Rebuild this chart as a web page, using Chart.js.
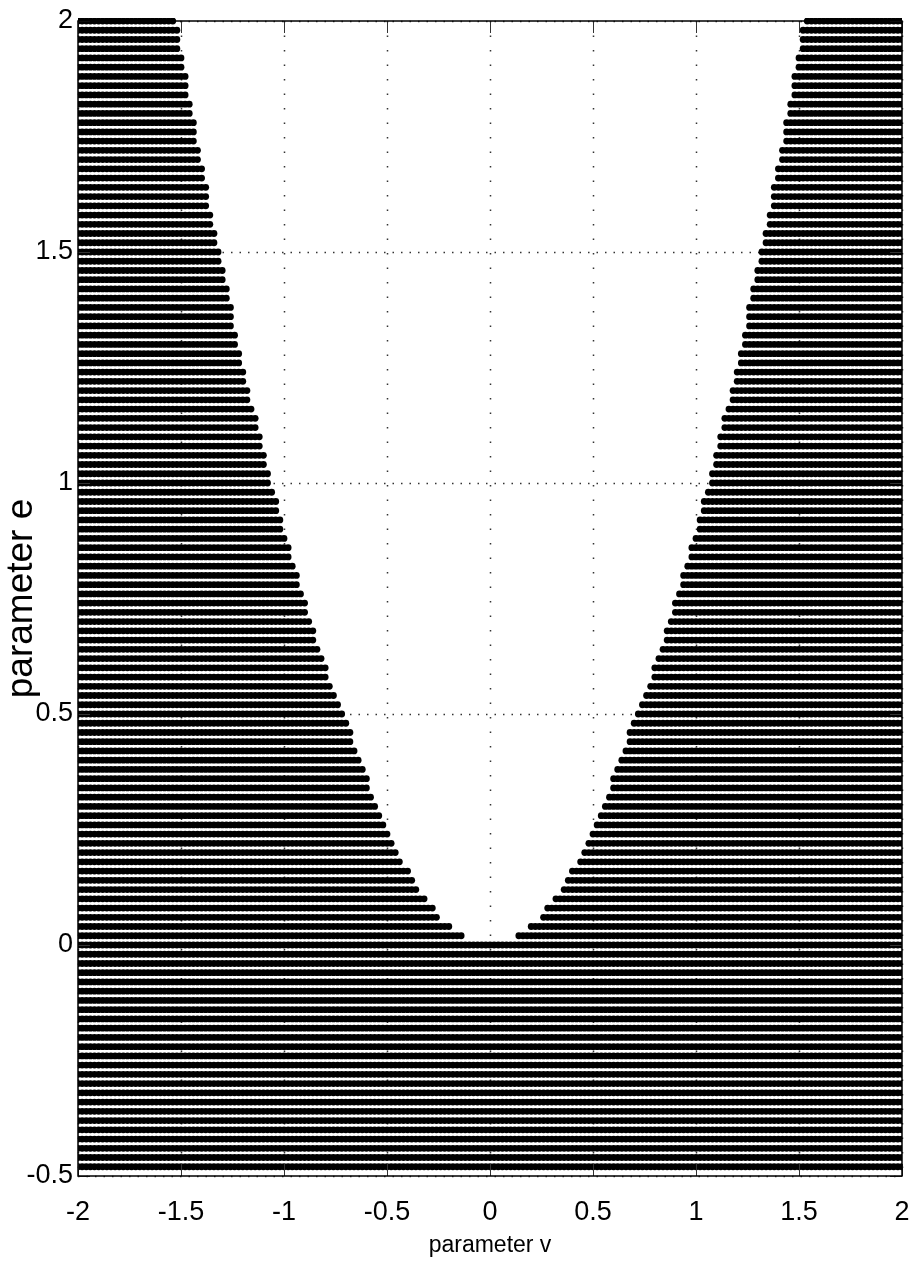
<!DOCTYPE html>
<html><head><meta charset="utf-8">
<script src="https://cdn.jsdelivr.net/npm/chart.js@4/dist/chart.umd.min.js"></script>
<style>html,body{margin:0;padding:0;background:#fff}canvas{display:block}</style>
</head><body>
<canvas id="c" width="909" height="1275"></canvas>
<script>
// Tick labels
const xTicks = [-2, -1.5, -1, -0.5, 0, 0.5, 1, 1.5, 2];
const yTicks = [-0.5, 0, 0.5, 1, 1.5, 2];

// Sampled grid of parameter e (rows, top to bottom)
const eRows = [2,1.98,1.96,1.94,1.92,1.9,1.88,1.86,1.84,1.82,1.8,1.78,1.76,1.74,1.72,1.7,1.68,1.66,1.64,1.62,1.6,1.58,1.56,1.54,1.52,1.5,1.48,1.46,1.44,1.42,1.4,1.38,1.36,1.34,1.32,1.3,1.28,1.26,1.24,1.22,1.2,1.18,1.16,1.14,1.12,1.1,1.08,1.06,1.04,1.02,1,0.98,0.96,0.94,0.92,0.9,0.88,0.86,0.84,0.82,0.8,0.78,0.76,0.74,0.72,0.7,0.68,0.66,0.64,0.62,0.6,0.58,0.56,0.54,0.52,0.5,0.48,0.46,0.44,0.42,0.4,0.38,0.36,0.34,0.32,0.3,0.28,0.26,0.24,0.22,0.2,0.18,0.16,0.14,0.12,0.1,0.08,0.06,0.04,0.02,0,-0.02,-0.04,-0.06,-0.08,-0.1,-0.12,-0.14,-0.16,-0.18,-0.2,-0.22,-0.24,-0.26,-0.28,-0.3,-0.32,-0.34,-0.36,-0.38,-0.4,-0.42,-0.44,-0.46,-0.48];

// Smallest |v| that is marked in each row
const innerEdge = [
 1.54,1.52,1.52,1.52,1.50,1.50,1.48,1.48,1.48,1.46,1.46,1.44,1.44,1.44,1.42,1.42,1.40,1.40,1.38,1.38,1.38,1.36,1.36,1.34,1.34,1.32,1.32,1.30,1.30,1.28,1.28,1.26,1.26,1.26,1.24,1.24,
 1.22,1.22,1.20,1.20,1.18,1.18,1.16,1.14,1.14,1.12,1.12,1.10,1.10,1.08,1.08,1.06,1.04,1.04,1.02,1.02,1.00,0.98,0.98,0.96,0.94,0.94,0.92,0.90,0.90,0.88,0.86,0.86,0.84,0.82,0.80,
 0.80,0.78,0.76,0.74,0.72,0.70,0.68,0.68,0.66,0.64,0.62,0.60,0.60,0.58,0.56,0.54,0.52,0.50,0.48,0.46,0.44,0.40,0.38,0.36,0.32,0.28,0.26,0.20,0.14,
 0,0,0,0,0,0,0,0,0,0,0,0,0,0,0,0,0,0,0,0,0,0,0,0,0
];

// Sampling of parameter v (columns)
const vMin = -2, vMax = 2, vStep = 0.02;
const vColumns = [];
for (let k = 0; k <= Math.round((vMax - vMin) / vStep); k++) vColumns.push(+(vMin + k * vStep).toFixed(2));

const points = [];
eRows.forEach((e, i) => {
  vColumns.forEach(v => {
    if (Math.abs(v) >= innerEdge[i] - 1e-9) points.push({x: v, y: e});
  });
});

const FONT = "'Liberation Sans', Arial, sans-serif";

const framePlugin = {
  id: 'frame',
  beforeDatasetsDraw(chart) {
    const {ctx, chartArea: a, scales: {x, y}} = chart;
    ctx.save();
    ctx.strokeStyle = '#333';
    ctx.lineWidth = 1.5;
    ctx.setLineDash([1.5, 13]);
    xTicks.forEach(v => {
      const px = Math.round(x.getPixelForValue(v)) + 0.5;
      ctx.beginPath(); ctx.moveTo(px, a.top); ctx.lineTo(px, a.bottom); ctx.stroke();
    });
    ctx.setLineDash([1.5, 7]);
    yTicks.forEach(v => {
      const py = Math.round(y.getPixelForValue(v)) + 0.5;
      ctx.beginPath(); ctx.moveTo(a.left, py); ctx.lineTo(a.right, py); ctx.stroke();
    });
    ctx.restore();
  },
  afterDatasetsDraw(chart) {
    const {ctx, chartArea: a, scales: {x, y}} = chart;
    ctx.save();
    ctx.setLineDash([]);
    ctx.strokeStyle = '#333';
    ctx.lineWidth = 1;
    const L = 12;
    xTicks.forEach(v => {
      const px = Math.round(x.getPixelForValue(v)) + 0.5;
      ctx.beginPath();
      ctx.moveTo(px, a.bottom); ctx.lineTo(px, a.bottom - L);
      ctx.moveTo(px, a.top); ctx.lineTo(px, a.top + L);
      ctx.stroke();
    });
    yTicks.forEach(v => {
      const py = Math.round(y.getPixelForValue(v)) + 0.5;
      ctx.beginPath();
      ctx.moveTo(a.left, py); ctx.lineTo(a.left + L, py);
      ctx.moveTo(a.right, py); ctx.lineTo(a.right - L, py);
      ctx.stroke();
    });
    ctx.strokeStyle = '#000';
    ctx.lineWidth = 1.5;
    ctx.strokeRect(a.left, a.top, a.right - a.left, a.bottom - a.top);
    ctx.restore();
  }
};

new Chart(document.getElementById('c'), {
  type: 'scatter',
  data: {
    datasets: [{
      data: points,
      backgroundColor: '#000',
      borderWidth: 0,
      pointRadius: 3.4,
      pointHoverRadius: 3.4,
      clip: {left: 0, right: 0, top: 3, bottom: 0}
    }]
  },
  options: {
    responsive: false,
    animation: false,
    events: [],
    layout: {padding: {top: 21, right: 7, left: 0, bottom: 0}},
    plugins: {legend: {display: false}, tooltip: {enabled: false}},
    scales: {
      x: {
        type: 'linear', min: -2, max: 2,
        afterBuildTicks: s => { s.ticks = xTicks.map(v => ({value: v})); },
        afterFit: s => { s.height = 99; s.paddingLeft = 0; s.paddingRight = 0; },
        grid: {display: false, drawTicks: false},
        border: {display: false},
        ticks: {color: '#000', padding: 20, font: {family: FONT, size: 27}, callback: v => String(v)},
        title: {display: true, text: 'parameter v', color: '#000', font: {family: FONT, size: 23}, padding: {top: 0, bottom: 16}}
      },
      y: {
        type: 'linear', min: -0.5, max: 2,
        afterBuildTicks: s => { s.ticks = yTicks.map(v => ({value: v})); },
        afterFit: s => { s.width = 78; s.paddingTop = 0; s.paddingBottom = 0; },
        grid: {display: false, drawTicks: false},
        border: {display: false},
        ticks: {color: '#000', padding: 5, font: {family: FONT, size: 27}, callback: v => String(v)},
        title: {display: true, text: 'parameter e', color: '#000', font: {family: FONT, size: 37}, padding: 0}
      }
    }
  },
  plugins: [framePlugin]
});
</script>
</body></html>
